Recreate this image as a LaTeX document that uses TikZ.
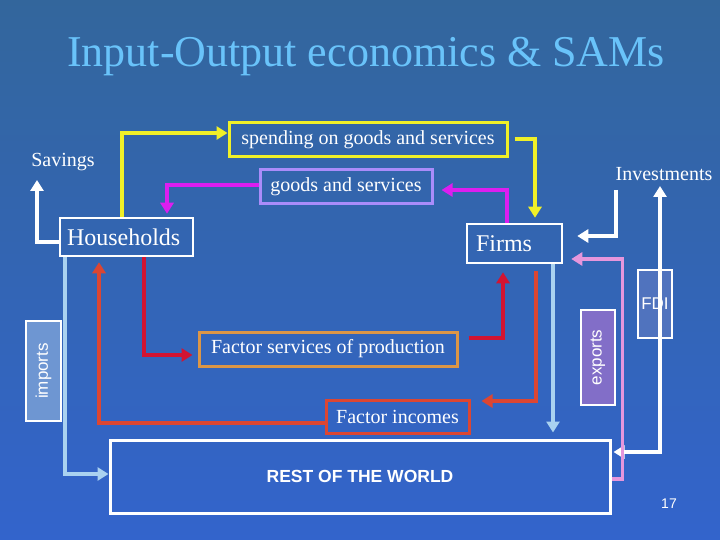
\documentclass[tikz,border=0pt]{standalone}
\usepackage{fontspec}
\setmainfont{Liberation Serif}
\setsansfont{Liberation Sans}
\usetikzlibrary{arrows.meta,calc}
\definecolor{bgtop}{RGB}{51,102,156}
\definecolor{bgbot}{RGB}{51,100,204}
\definecolor{ttl}{RGB}{105,195,250}
\definecolor{yel}{RGB}{240,240,40}
\definecolor{mag}{RGB}{220,30,240}
\definecolor{lav}{RGB}{170,140,250}
\definecolor{drd}{RGB}{210,20,50}
\definecolor{org}{RGB}{220,150,70}
\definecolor{ord}{RGB}{220,70,50}
\definecolor{lbl}{RGB}{170,210,240}
\definecolor{pnk}{RGB}{230,150,220}
\definecolor{impf}{RGB}{110,150,210}
\definecolor{expf}{RGB}{130,110,200}
\definecolor{fdif}{RGB}{80,115,190}
\tikzset{
  conn/.style={line width=3.6pt},
  tipped/.style={-{Triangle[length=11pt,width=13pt]}},
  serifl/.style={text=white,font=\fontsize{20}{24}\selectfont},
  bigl/.style={text=white,font=\fontsize{24}{28}\selectfont},
  sansl/.style={text=white,font=\sffamily\fontsize{17}{20}\selectfont},
  lbox/.style={draw,line width=3pt,inner sep=0pt,serifl},
  wbox/.style={draw=white,line width=2.5pt,inner sep=0pt},
}
\begin{document}
\begin{tikzpicture}[x=1pt,y=-1pt]
\path[use as bounding box,top color=bgtop,bottom color=bgbot] (0,0) rectangle (720,540);
% title
\node[text=ttl,font=\fontsize{44}{50}\selectfont] (title) at (366,57) {Input-Output economics \& SAMs};
% boxes
\node[wbox,bigl,align=left,text width=119pt,inner xsep=7pt,minimum height=38pt] (hh) at (126.5,237) {Households};
\node[wbox,bigl,align=left,text width=77pt,inner xsep=9pt,minimum height=39pt] (fi) at (514.5,243.5) {Firms};
\node[lbox,draw=yel,minimum width=278pt,minimum height=34pt] (sp) at (368,140) {spending on goods and services};
\node[lbox,draw=lav,minimum width=172pt,minimum height=34pt] (gs) at (346,187) {goods and services};
\node[lbox,draw=org,minimum width=258pt,minimum height=34pt] (fs) at (328,349) {Factor services of production};
\node[lbox,draw=ord,minimum width=143pt,minimum height=33pt] (fin) at (397.5,416.5) {Factor incomes};
\node[wbox,sansl,fill=impf,rotate=90,minimum width=100pt,minimum height=35pt] (imp) at (43.5,371) {imports};
\node[wbox,sansl,fill=expf,rotate=90,minimum width=95pt,minimum height=34pt] (exp) at (598,357.5) {exports};
\node[wbox,sansl,fill=fdif,minimum width=34pt,minimum height=68pt] (fdi) at (655,304) {FDI};
\node[wbox,line width=3pt,text=white,font=\sffamily\bfseries\fontsize{17.5}{20}\selectfont,minimum width=500pt,minimum height=73pt] (row) at (360,476.5) {REST OF THE WORLD};
% free labels
\node[serifl] (sav) at (63,162) {Savings};
\node[serifl] (inv) at (664,174) {Investments};
\node[text=white,font=\sffamily\fontsize{14}{16}\selectfont] (pg) at (669,504) {17};
% helper coordinates
\coordinate (savA) at (37,180);
\coordinate (invA) at (616,190);
\coordinate (invB) at (660,186);
\coordinate (fiLB) at ([xshift=38.5pt]fi.south);
% connectors
\draw[conn,white,tipped] ([yshift=-5pt]hh.west) -| (savA);
\draw[conn,yel,tipped] ([xshift=-4.5pt]hh.north) |- ([yshift=7pt]sp.west);
\draw[conn,yel,tipped] ([xshift=6pt,yshift=1pt]sp.east) -| ([xshift=20.5pt,yshift=5pt]fi.north);
\draw[conn,mag,tipped] ([xshift=-7.5pt]fi.north) |- ([xshift=8pt,yshift=-3pt]gs.east);
\draw[conn,mag,tipped] ([yshift=2pt]gs.west) -| ([xshift=40.5pt,yshift=3pt]hh.north);
\draw[conn,white,tipped] (invA) |- ([xshift=14pt,yshift=7.5pt]fi.east);
\draw[conn,white,{Triangle[length=11pt,width=13pt]}-{Triangle[length=11pt,width=13pt]}] (invB) |- ([xshift=2pt,yshift=24.5pt]row.east);
\draw[conn,drd,tipped] ([xshift=17.5pt]hh.south) |- ([xshift=-5pt,yshift=-6pt]fs.west);
\draw[conn,drd,tipped] ([xshift=10pt,yshift=11pt]fs.east) -| ([xshift=-11.5pt,yshift=-8pt]fi.south);
\draw[conn,ord,tipped] ([xshift=21.5pt,yshift=-7pt]fi.south) |- ([xshift=11pt,yshift=15.5pt]fin.east);
\draw[conn,ord,tipped] ([yshift=-6.5pt]fin.west) -| ([xshift=-27.5pt,yshift=-5pt]hh.south);
\draw[conn,lbl,tipped] ([xshift=-61.5pt]hh.south) |- ([yshift=2.5pt]row.west);
\draw[conn,lbl,tipped,shorten >=6pt] (fiLB) -- (fiLB |- row.north);
\draw[conn,pnk,tipped] ([yshift=-2.5pt]row.east) -- ++(11,0) |- ([xshift=8pt,yshift=-15.5pt]fi.east);
\end{tikzpicture}
\end{document}
